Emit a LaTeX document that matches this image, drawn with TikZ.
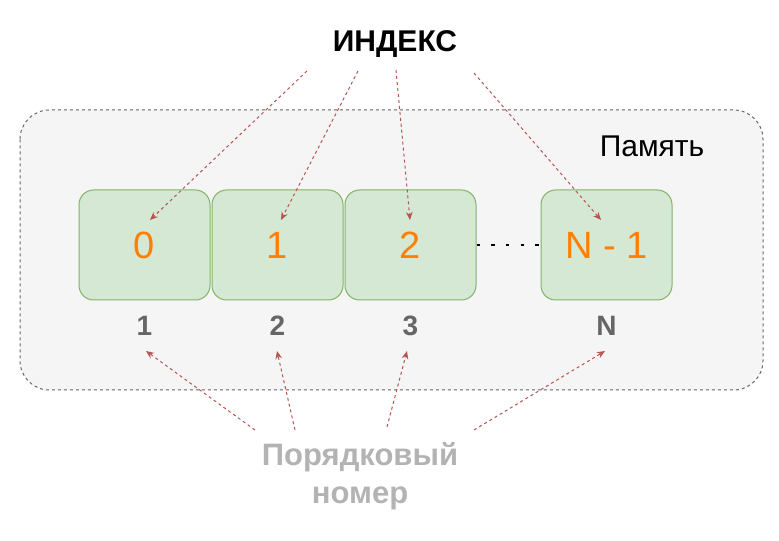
\documentclass[tikz,border=0pt]{standalone}
\usepackage{fontspec}
\setmainfont{Liberation Sans}
\usetikzlibrary{arrows.meta,positioning}

\definecolor{memfill}{HTML}{F5F5F5}
\definecolor{memline}{HTML}{666666}
\definecolor{cellfill}{HTML}{D5E8D4}
\definecolor{cellline}{HTML}{82B366}
\definecolor{idxorange}{HTML}{FF8000}
\definecolor{numgray}{HTML}{666666}
\definecolor{ordgray}{HTML}{B3B3B3}
\definecolor{arrowred}{HTML}{B85450}

\begin{document}
\begin{tikzpicture}[x=0.75pt,y=-0.75pt,
	cell/.style={draw=cellline, fill=cellfill, line width=0.75pt, rounded corners=11pt,
		minimum width=98.25pt, minimum height=82.5pt, inner sep=0pt,
		text=idxorange, font=\fontsize{28.5pt}{34pt}\selectfont},
	num/.style={inner sep=0pt, text=numgray, font=\fontsize{21pt}{25pt}\selectfont\bfseries},
	ptr/.style={draw=arrowred, line width=0.75pt, dash pattern=on 2.25pt off 2.25pt,
		-{Stealth[length=6pt,width=5pt]}}]
	\useasboundingbox (0,0) rectangle (779,541);

	% memory area
	\draw[fill=memfill, draw=memline, line width=0.75pt, dash pattern=on 2.25pt off 2.25pt,
		rounded corners=22pt] (20,110) rectangle (763,390);
	\node[inner sep=0pt, font=\fontsize{22.5pt}{27pt}\selectfont] (mem) at (652,146) {Память};

	% cells
	\node[cell] (c0) at (144.5,245) {0};
	\node[cell, right=0.75pt of c0] (c1) {1};
	\node[cell, right=0.75pt of c1] (c2) {2};
	\node[cell] (cN) at (606.5,245) {N - 1};
	\draw[line width=2pt, dash pattern=on 2.5pt off 8.5pt] (c2.east) -- (cN.east -| cN.west);

	% ordinal numbers
	\node[num, below=11.25pt of c0] (n0) {1};
	\node[num, below=11.25pt of c1] (n1) {2};
	\node[num, below=11.25pt of c2] (n2) {3};
	\node[num, below=11.25pt of cN] (nN) {N};

	% titles
	\node[inner sep=0pt, font=\fontsize{22.5pt}{27pt}\selectfont\bfseries] (idx) at (395,44) {ИНДЕКС};
	\node[inner sep=0pt, align=center, text=ordgray,
		font=\fontsize{23.25pt}{28.5pt}\selectfont\bfseries] (ord) at (360,476) {Порядковый\\номер};

	% arrows from the index
	\coordinate (i0) at (307,71);
	\coordinate (i1) at (358,71);
	\coordinate (i2) at (396,70);
	\coordinate (iN) at (474,73);
	\coordinate (t0) at (150,220);
	\coordinate (t1) at (281,220);
	\coordinate (t2) at (410,220);
	\coordinate (tN) at (601,220);
	\draw[ptr] (i0) -- (t0);
	\draw[ptr] (i1) -- (t1);
	\draw[ptr] (i2) -- (t2);
	\draw[ptr] (iN) -- (tN);

	% arrows from the ordinal numbers
	\coordinate (o0) at (255,430);
	\coordinate (o1) at (295,430);
	\coordinate (o2) at (387,427);
	\coordinate (oN) at (474,430);
	\coordinate (b0) at (146,351);
	\coordinate (b1) at (277,351);
	\coordinate (b2) at (407,351);
	\coordinate (bN) at (605,351);
	\draw[ptr] (o0) -- (b0);
	\draw[ptr] (o1) -- (b1);
	\draw[ptr] (o2) -- (b2);
	\draw[ptr] (oN) -- (bN);
\end{tikzpicture}
\end{document}
